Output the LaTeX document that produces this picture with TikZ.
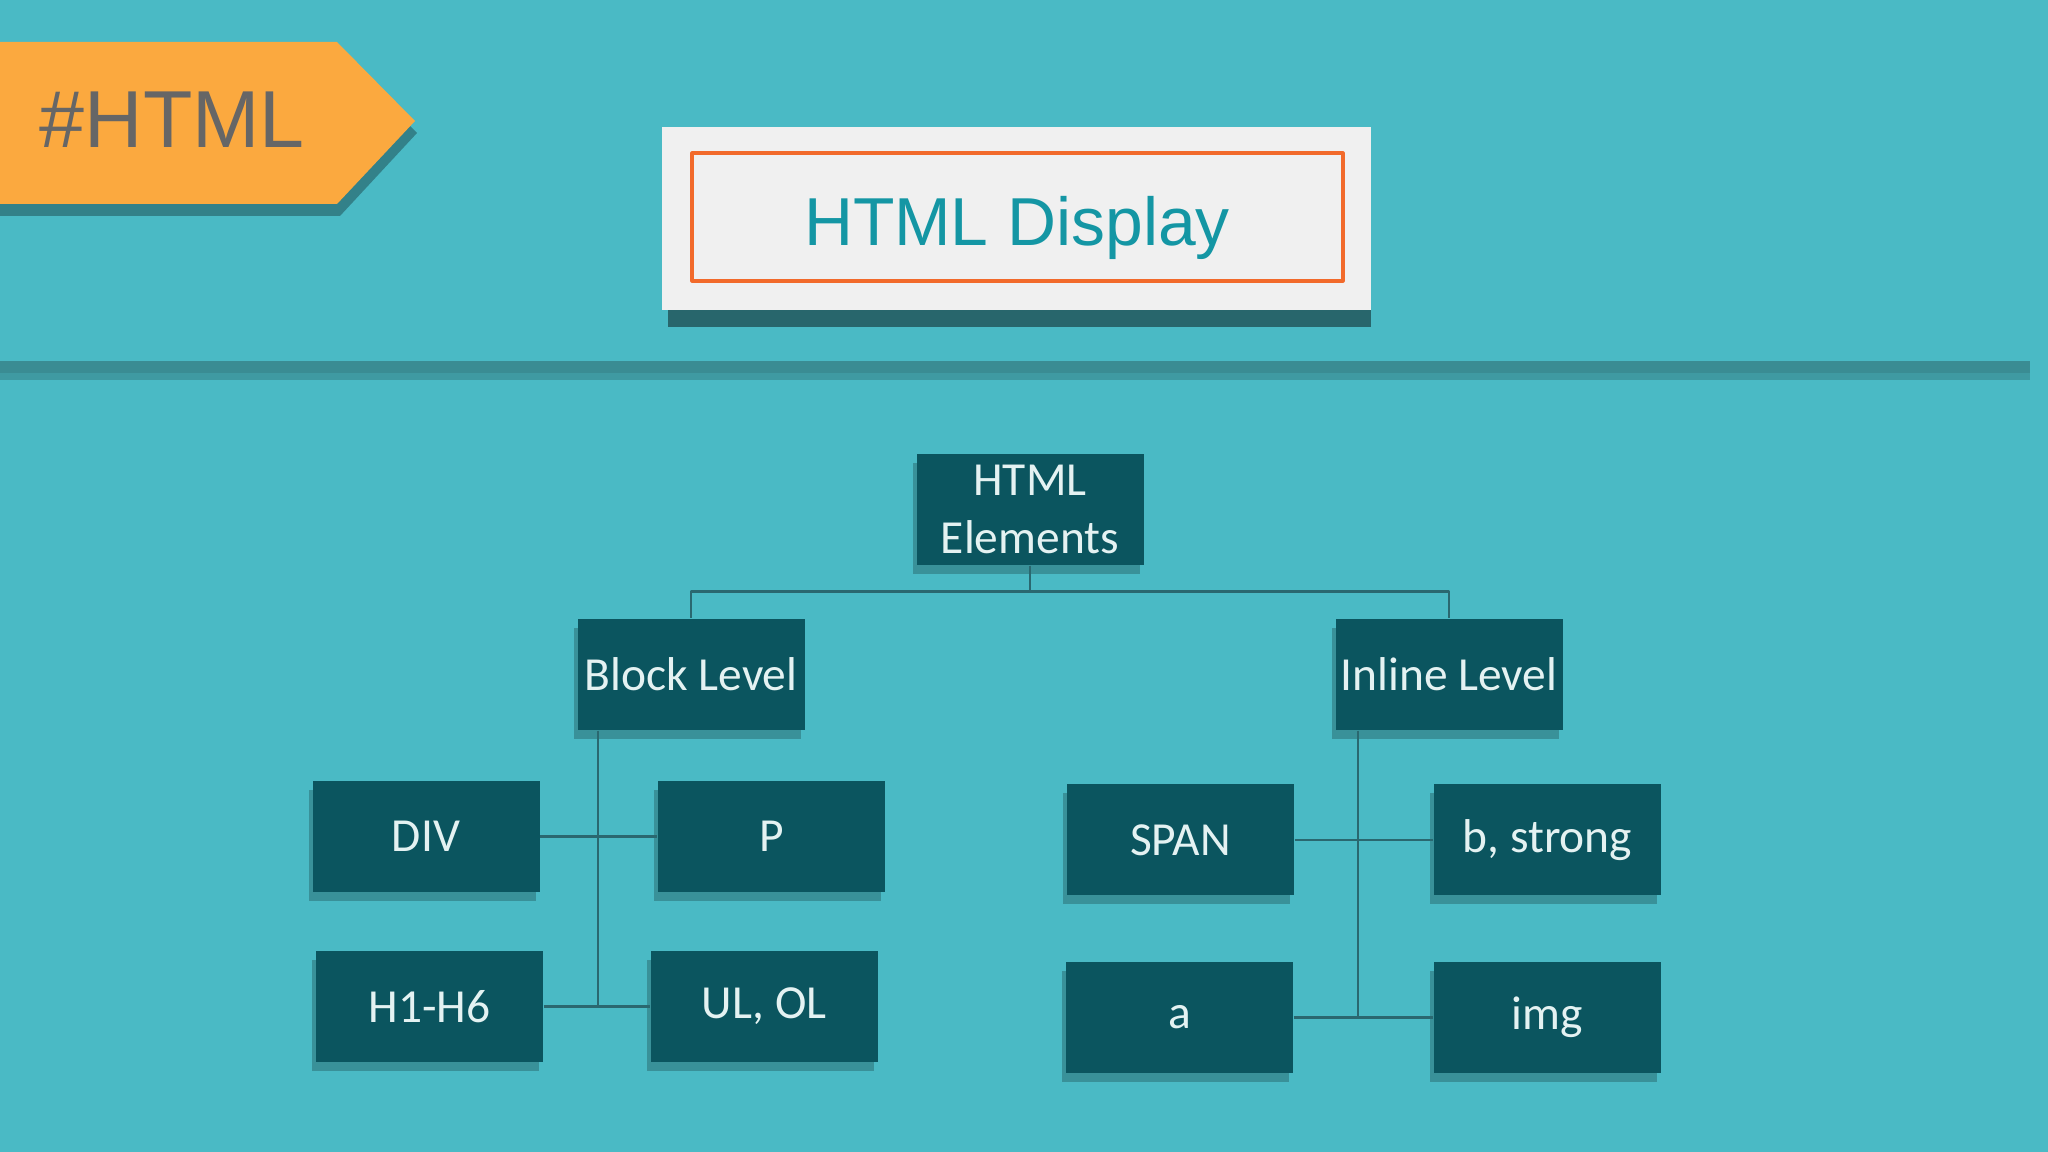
\documentclass[tikz,border=0pt]{standalone}
\usepackage{fontspec}
\setmainfont{Carlito}
\newfontfamily\arialfont{Liberation Sans}
\usepackage{tikz}
\usetikzlibrary{arrows.meta,shadows,positioning}
\definecolor{bgteal}{HTML}{4ABAC5}
\definecolor{boxteal}{HTML}{0B555F}
\definecolor{linkteal}{HTML}{2A6870}
\definecolor{ruleteal}{HTML}{3A8C93}
\definecolor{tagorange}{HTML}{FBA93F}
\definecolor{titleteal}{HTML}{1496A4}
\definecolor{frameorange}{HTML}{F26A2B}
\definecolor{lighttext}{HTML}{E4F2F2}
\tikzset{
  every picture/.style={line join=round, line cap=round, >=Stealth},
  elbox/.style={draw=none, fill=boxteal, text=lighttext, minimum width=2.27cm, minimum height=1.11cm,
    inner sep=0pt, align=center, font=\fontsize{13.5}{15}\selectfont,
    drop shadow={shadow xshift=-0.04cm, shadow yshift=-0.09cm, fill=black, opacity=0.22}},
  conn/.style={draw=linkteal, line width=0.8pt, line cap=butt},
}

\begin{document}
\begin{tikzpicture}
\fill[bgteal](0,0)rectangle(20.48,-11.52);
\useasboundingbox(0,0)rectangle(20.48,-11.52);
\fill[black,opacity=0.3](0,-0.54)--(3.40,-0.54)--(4.17,-1.33)--(3.40,-2.16)--(0,-2.16)--cycle;
\fill[tagorange](0,-0.42)--(3.37,-0.42)--(4.15,-1.21)--(3.37,-2.04)--(0,-2.04)--cycle;
\node[anchor=base west,text=black!60,inner sep=0pt,font=\arialfont\fontsize{23}{26}\selectfont](tag)at(0.39,-1.48){\#HTML};
\fill[black,opacity=0.45](6.68,-1.45)rectangle(13.71,-3.27);
\fill[black!6](6.62,-1.27)rectangle(13.71,-3.10);
\draw[frameorange,line width=0.9pt](6.92,-1.53)rectangle(13.43,-2.81);
\node[anchor=base,text=titleteal,inner sep=0pt,font=\arialfont\fontsize{19.3}{22}\selectfont](title)at(10.17,-2.46){HTML Display};
\fill[ruleteal](0,-3.61)rectangle(20.30,-3.73);
\fill[ruleteal!70!bgteal](0,-3.73)rectangle(20.30,-3.80);

\node[elbox](root)at(10.30,-5.095){HTML\\[1.5pt]Elements};
\node[elbox](block)at(6.91,-6.745){Block Level};
\node[elbox](inline)at(14.49,-6.745){Inline Level};
\node[elbox](div)at(4.26,-8.365){DIV};
\node[elbox](para)at(7.715,-8.365){P};
\node[elbox](hx)at(4.295,-10.065){H1-H6};
\node[elbox](list)at(7.64,-10.065){UL, OL};
\node[elbox](span)at(11.805,-8.40){SPAN};
\node[elbox](bold)at(15.475,-8.40){b, strong};
\node[elbox](link)at(11.795,-10.175){a};
\node[elbox](img)at(15.475,-10.175){img};

\draw[conn](root.south)--++(0,-0.26)-|(block.north);
\draw[conn](root.south)--++(0,-0.26)-|(inline.north);
\draw[conn]([xshift=-0.93cm]block.south)|-(list.west);
\draw[conn](div.east)--(para.west);
\draw[conn](hx.east)--(list.west);
\draw[conn]([xshift=-0.91cm]inline.south)|-(img.west);
\draw[conn](span.east)--(bold.west);
\draw[conn](link.east)--(img.west);
\end{tikzpicture}
\end{document}
